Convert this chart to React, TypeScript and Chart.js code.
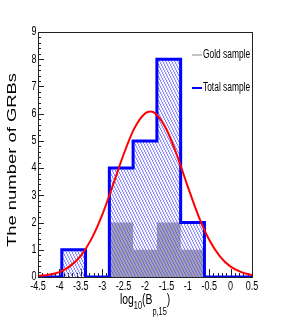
import { useEffect, useRef } from 'react';
import { Chart, registerables } from 'chart.js';

Chart.register(...registerables);

// ---- data ----
const binEdges = [-4.5, -3.944, -3.389, -2.833, -2.278, -1.722, -1.167, -0.611, -0.056, 0.5];
const totalCounts = [0, 1, 0, 4, 5, 8, 2, 0, 0];
const goldCounts = [0, 0, 0, 2, 1, 2, 1, 0, 0];
const fitX = [-4.5, -4.25, -4, -3.75, -3.5, -3.25, -3, -2.75, -2.5, -2.25, -2, -1.875, -1.75, -1.5, -1.25, -1, -0.75, -0.5, -0.25, 0, 0.25, 0.5];
const fitY = [0.04, 0.08, 0.18, 0.4, 0.78, 1.4, 2.28, 3.37, 4.5, 5.46, 6.01, 6.08, 6.0, 5.43, 4.46, 3.32, 2.24, 1.37, 0.76, 0.38, 0.18, 0.07];
const xTicks = [-4.5, -4, -3.5, -3, -2.5, -2, -1.5, -1, -0.5, 0, 0.5];
const xTickLabels = ['-4.5', '-4', '-3.5', '-3', '-2.5', '-2', '-1.5', '-1', '-0.5', '0', '0.5'];
const yTicks = [0, 1, 2, 3, 4, 5, 6, 7, 8, 9];
const yTickLabels = ['0', '1', '2', '3', '4', '5', '6', '7', '8', '9'];
const legendLabels = ['Gold sample', 'Total sample'];
const yTitle = 'The number of GRBs';

const FONT = '"Liberation Sans", Arial, Helvetica, sans-serif';

function histPoints(counts: number[]) {
  return binEdges.map((e, i) => ({ x: e, y: i < counts.length ? counts[i] : 0 }));
}

function makeHatch() {
  const c = document.createElement('canvas');
  c.width = 3;
  c.height = 6;
  const g = c.getContext('2d')!;
  for (let y = 0; y < 6; y++) {
    const x = Math.floor(y / 2);
    g.fillStyle = 'rgba(90,90,255,0.7)';
    g.fillRect(x, y, 1, 1);
    g.fillStyle = 'rgba(90,90,255,0.15)';
    g.fillRect((x + 1) % 3, y, 1, 1);
  }
  return g.createPattern(c, 'repeat')!;
}

function txt(ctx: CanvasRenderingContext2D, s: string, x: number, y: number, size: number, sx: number, align: CanvasTextAlign, base: CanvasTextBaseline = 'middle') {
  ctx.save();
  ctx.translate(x, y);
  ctx.scale(sx, 1);
  ctx.font = `${size}px ${FONT}`;
  ctx.textAlign = align;
  ctx.textBaseline = base;
  ctx.fillStyle = '#000';
  ctx.fillText(s, 0, 0);
  ctx.restore();
}

const rootAxes = {
  id: 'rootAxes',
  beforeDatasetsDraw(chart: any) {
    const ctx: CanvasRenderingContext2D = chart.ctx;
    const xs = chart.scales.x;
    const ys = chart.scales.y;
    const { left, bottom } = chart.chartArea;
    ctx.save();
    ctx.strokeStyle = '#222';
    ctx.lineWidth = 1;
    ctx.beginPath();
    for (let k = 0; k <= 50; k++) {
      const v = -4.5 + k * 0.1;
      const px = Math.round(xs.getPixelForValue(v)) + 0.5;
      const major = k % 5 === 0;
      ctx.moveTo(px, bottom);
      ctx.lineTo(px, bottom - (major ? 8 : 4));
    }
    for (let k = 0; k <= 45; k++) {
      const v = k * 0.2;
      const py = Math.round(ys.getPixelForValue(v)) + 0.5;
      const major = k % 5 === 0;
      ctx.moveTo(left, py);
      ctx.lineTo(left + (major ? 6 : 3), py);
    }
    ctx.stroke();
    ctx.restore();
  },
  afterDraw(chart: any) {
    const ctx: CanvasRenderingContext2D = chart.ctx;
    const xs = chart.scales.x;
    const ys = chart.scales.y;
    const { left, right, top, bottom } = chart.chartArea;
    ctx.save();
    ctx.strokeStyle = '#222';
    ctx.lineWidth = 1;
    ctx.strokeRect(Math.round(left) + 0.5, Math.round(top) + 0.5, Math.round(right - left), Math.round(bottom - top));
    xTicks.forEach((v, i) => txt(ctx, xTickLabels[i], xs.getPixelForValue(v), bottom + 10, 12, 0.75, 'center'));
    yTicks.forEach((v, i) => txt(ctx, yTickLabels[i], left - 1.5, ys.getPixelForValue(v), 12, 0.75, 'right'));
    const sx = 0.74;
    let x = 120;
    const parts: [string, number, number][] = [
      ['log', 14, 304],
      ['10', 10, 309],
      ['(B', 14, 304],
      ['p,15', 10, 315],
      [')', 14, 304],
    ];
    for (const [s, size, by] of parts) {
      ctx.font = `${size}px ${FONT}`;
      const w = ctx.measureText(s).width * sx;
      txt(ctx, s, x, by, size, sx, 'left', 'alphabetic');
      x += w;
    }
    ctx.save();
    ctx.font = `13px ${FONT}`;
    const w = ctx.measureText(yTitle).width;
    const sc = 174 / w;
    ctx.translate(12, 160);
    ctx.rotate(-Math.PI / 2);
    ctx.scale(sc, 1);
    ctx.textAlign = 'center';
    ctx.textBaseline = 'middle';
    ctx.fillStyle = '#000';
    ctx.fillText(yTitle, 0, 0);
    ctx.restore();
    const legendY = [55, 88];
    const legendColors = ['rgb(200,195,190)', '#0000ff'];
    legendLabels.forEach((s, i) => {
      ctx.strokeStyle = legendColors[i];
      ctx.lineWidth = 2;
      ctx.beginPath();
      ctx.moveTo(192, legendY[i]);
      ctx.lineTo(202, legendY[i]);
      ctx.stroke();
      txt(ctx, s, 203, legendY[i], 12, 0.7, 'left');
    });
    ctx.restore();
  },
};

export default function App() {
  const ref = useRef<HTMLCanvasElement | null>(null);
  useEffect(() => {
    const canvas = ref.current!;
    const hatch = makeHatch();
    const chart = new Chart(canvas, {
      type: 'line',
      data: {
        datasets: [
          {
            label: 'Fit',
            data: fitX.map((x, i) => ({ x, y: fitY[i] })),
            borderColor: '#ff0000',
            borderWidth: 2,
            pointRadius: 0,
            fill: false,
            cubicInterpolationMode: 'monotone',
            order: 0,
          },
          {
            label: legendLabels[1],
            data: histPoints(totalCounts),
            stepped: true,
            borderColor: '#0000ff',
            borderWidth: 3,
            backgroundColor: hatch as any,
            fill: 'origin',
            pointRadius: 0,
            order: 1,
          },
          {
            label: legendLabels[0],
            data: histPoints(goldCounts),
            stepped: true,
            borderColor: 'rgba(0,0,0,0)',
            borderWidth: 0,
            backgroundColor: 'rgb(170,165,165)',
            fill: 'origin',
            pointRadius: 0,
            order: 2,
          },
        ],
      },
      options: {
        animation: false,
        responsive: false,
        devicePixelRatio: 1,
        layout: { padding: { left: 38, top: 32, right: 32, bottom: 50 } },
        scales: {
          x: { type: 'linear', min: -4.5, max: 0.5, display: false },
          y: { type: 'linear', min: 0, max: 9, display: false },
        },
        plugins: { legend: { display: false }, tooltip: { enabled: false } },
      },
      plugins: [rootAxes],
    });
    return () => chart.destroy();
  }, []);
  return (
    <div style={{ position: 'absolute', left: 0, top: 0, width: 284, height: 327, background: '#fff' }}>
      <canvas ref={ref} width={284} height={327} />
    </div>
  );
}
